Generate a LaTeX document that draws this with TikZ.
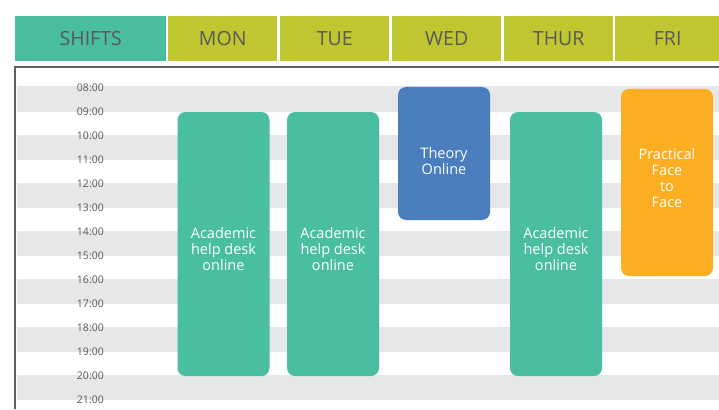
\documentclass[tikz,border=0pt]{standalone}
\usepackage{fontspec}
\setmainfont{Open Sans}
\definecolor{teal}{HTML}{49BEA0}
\definecolor{olive}{HTML}{C0C62F}
\definecolor{theoryblue}{HTML}{4A7EBF}
\definecolor{orange}{HTML}{FBAE21}
\definecolor{stripe}{HTML}{E6E7E8}
\definecolor{frame}{HTML}{5F5F5F}
\definecolor{label}{HTML}{595959}
\begin{document}
\begin{tikzpicture}[x=1pt,y=-1pt,
		headbox/.style={anchor=north west, minimum height=45pt, inner sep=0pt, text=label, font=\fontsize{19.5}{22}\selectfont},
		slot/.style={rounded corners=8pt, inner sep=0pt, minimum width=92pt},
		slottext/.style={text=white, align=center, font=\fontsize{14.5}{16}\selectfont},
		hour/.style={anchor=east, inner sep=0pt, text=label, font=\fontsize{10.5}{12}\selectfont}]
	\clip (0,0) rectangle (719,409);
	\fill[white] (0,0) rectangle (719,409);
	% header row
	\node[headbox, fill=teal, minimum width=151pt] (shifts) at (15,16) {SHIFTS};
	\node[headbox, fill=olive, minimum width=109pt] (mon) at (168,16) {MON};
	\node[headbox, fill=olive, minimum width=109pt] (tue) at (280,16) {TUE};
	\node[headbox, fill=olive, minimum width=109pt] (wed) at (392,16) {WED};
	\node[headbox, fill=olive, minimum width=109pt] (thur) at (504,16) {THUR};
	\node[headbox, fill=olive, minimum width=105pt] (fri) at (615,16) {FRI};
	% stripes and hours
	\foreach \h in {8,10,...,20}
		\fill[stripe] (17,{87+(\h-8)*24.05-0.5}) rectangle (719,{87+(\h-7)*24.05+0.5});
	\foreach \h in {8,...,21}
		\node[hour] (h\h) at (104,{87.5+(\h-8)*24.05}) {\ifnum\h<10 0\fi\h:00};
	\draw[line width=2pt, frame] (15,409) -- (15,67) -- (719,67);
	% shifts
	\node[slot, fill=teal, minimum height=264pt] (mon-slot) at (223.5,244) {};
	\node[slot, fill=teal, minimum height=264pt] (tue-slot) at (333,244) {};
	\node[slot, fill=theoryblue, minimum height=133pt] (wed-slot) at (444,153.5) {};
	\node[slot, fill=teal, minimum height=264pt] (thur-slot) at (556,244) {};
	\node[slot, fill=orange, minimum height=187pt] (fri-slot) at (667,182.5) {};
	\node[slottext] (mon-txt) at (223.5,249) {Academic\\help desk\\online};
	\node[slottext] (tue-txt) at (333,249) {Academic\\help desk\\online};
	\node[slottext] (wed-txt) at (444,161) {Theory\\Online};
	\node[slottext] (thur-txt) at (556,249) {Academic\\help desk\\online};
	\node[slottext] (fri-txt) at (667,178) {Practical\\Face\\to\\Face};
\end{tikzpicture}
\end{document}
